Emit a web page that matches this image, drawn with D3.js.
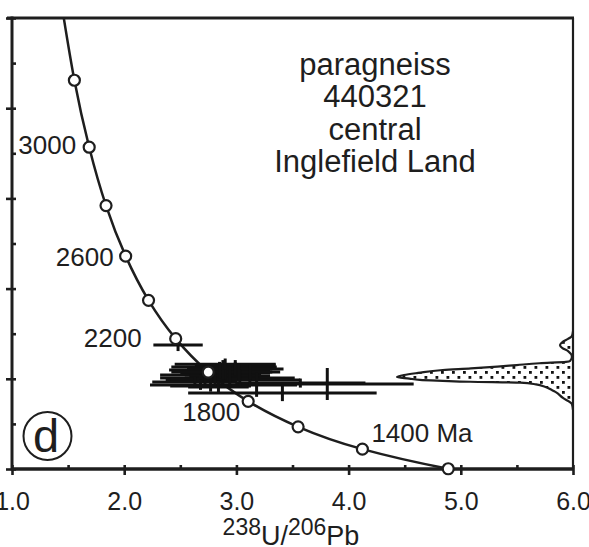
<!DOCTYPE html>
<html><head><meta charset="utf-8">
<script src="https://cdn.jsdelivr.net/npm/d3@7"></script>
<style>
body{margin:0;background:#fff}
svg{display:block}
text{font-family:"Liberation Sans",Arial,Helvetica,sans-serif;fill:#1e1e1e}
</style>
</head><body>
<svg id="c" width="589" height="547"></svg>
<script>
// ---------- data ----------
const concordiaAges = [1100, 1200, 1400, 1600, 1800, 2000, 2200, 2400, 2600, 2800, 3000, 3200, 3400];
const concordiaU238Pb206 = [5.375, 4.888, 4.123, 3.550, 3.105, 2.749, 2.459, 2.217, 2.013, 1.838, 1.688, 1.556, 1.440];
const concordiaPb207Pb206 = [0.0762, 0.0801, 0.0888, 0.0987, 0.1100, 0.1230, 0.1378, 0.1548, 0.1744, 0.1968, 0.2227, 0.2524, 0.2867];

const labelAges = [3000, 2600, 2200, 1800, 1400];
const labelTexts = ["3000", "2600", "2200", "1800", "1400 Ma"];

const spotU238Pb206 = [2.48, 2.89, 2.85, 2.90, 2.77, 2.94, 2.72, 2.68, 3.03, 2.63, 2.68, 3.18, 3.81, 3.41, 2.84, 2.88, 3.02, 3.12, 2.75, 2.99, 3.57, 2.90, 2.99, 2.81, 3.12, 2.77];
const spotPb207Pb206 = [0.1350, 0.1252, 0.1239, 0.1226, 0.1217, 0.1212, 0.1204, 0.1195, 0.1204, 0.1186, 0.1173, 0.1173, 0.1177, 0.1137, 0.1164, 0.1239, 0.1230, 0.1195, 0.1230, 0.1261, 0.1181, 0.1265, 0.1243, 0.1199, 0.1230, 0.1168];
const spotErrU = [0.22, 0.47, 0.45, 0.40, 0.45, 0.36, 0.40, 0.31, 0.49, 0.38, 0.45, 0.36, 0.77, 0.84, 0.27, 0.30, 0.30, 0.45, 0.33, 0.36, 0.58, 0.45, 0.43, 0.40, 0.27, 0.36];
const spotErrPb = [0.0027, 0.0027, 0.0036, 0.0031, 0.0027, 0.0044, 0.0027, 0.0022, 0.0036, 0.0022, 0.0022, 0.0053, 0.0071, 0.0036, 0.0027, 0.0044, 0.0040, 0.0027, 0.0027, 0.0022, 0.0020, 0.0025, 0.0030, 0.0030, 0.0035, 0.0025];

const densityPb207Pb206 = [0.1410, 0.1390, 0.1377, 0.1363, 0.1350, 0.1336, 0.1323, 0.1297, 0.1279, 0.1275, 0.1269, 0.1261, 0.1254, 0.1246, 0.1239, 0.1226, 0.1217, 0.1208, 0.1201, 0.1195, 0.1191, 0.1187, 0.1183, 0.1175, 0.1165, 0.1150, 0.1142, 0.1115, 0.1088, 0.1062];
const densityValue = [0, 0.006, 0.028, 0.060, 0.074, 0.060, 0.028, 0.006, 0.017, 0.04, 0.19, 0.32, 0.43, 0.58, 0.74, 0.88, 0.96, 1.0, 0.93, 0.87, 0.74, 0.585, 0.30, 0.21, 0.16, 0.12, 0.10, 0.057, 0.006, 0];

const xMajorTicks = [1, 2, 3, 4, 5, 6];
const xMinorTicks = [1.5, 2.5, 3.5, 4.5, 5.5];
const xTickLabels = ["1.0", "2.0", "3.0", "4.0", "5.0", "6.0"];
const yMajorTicks = [0.08, 0.12, 0.16, 0.20, 0.24, 0.28];
const yMinorTicks = [0.10, 0.14, 0.18, 0.22, 0.26];

const titleLines = ["paragneiss", "440321", "central", "Inglefield Land"];
const panelLetter = "d";

// ---------- layout / style ----------
const L = 12, R = 573, T = 18, B = 469;
const labelOffsets = [
  {anchor: "end", dx: -13, dy: 7},
  {anchor: "end", dx: -12, dy: 10},
  {anchor: "end", dx: -34, dy: 8},
  {anchor: "end", dx: -8, dy: 20},
  {anchor: "start", dx: 9, dy: -7}
];

const svg = d3.select("#c");
const x = d3.scaleLinear().domain([1, 6]).range([L, R]);
const y = d3.scaleLinear().domain([0.08, 0.28]).range([B, T]);
const dScale = d3.scaleLinear().domain([0, 1]).range([R, 397]);

const defs = svg.append("defs");
defs.append("clipPath").attr("id", "plot").append("rect")
  .attr("x", L).attr("y", T).attr("width", R - L).attr("height", B - T);
const pat = defs.append("pattern").attr("id", "dots")
  .attr("patternUnits", "userSpaceOnUse").attr("width", 11).attr("height", 10);
pat.append("rect").attr("x", 1).attr("y", 1).attr("width", 2.8).attr("height", 2.8).attr("fill", "#111");
pat.append("rect").attr("x", 6.5).attr("y", 6).attr("width", 2.8).attr("height", 2.8).attr("fill", "#111");

// ---------- axes ----------
const tickStyle = g => {
  g.select(".domain").remove();
  g.selectAll(".tick line").attr("stroke", "#1e1e1e").attr("stroke-width", 2.6);
};
const gxOut = svg.append("g").attr("transform", `translate(0,${B})`)
  .call(d3.axisBottom(x).tickValues(xMajorTicks).tickSize(6)
    .tickFormat((d, i) => xTickLabels[i]))
  .call(tickStyle);
gxOut.selectAll(".tick text").attr("y", 41).attr("dy", 0)
  .attr("font-size", 25).attr("fill", "#1e1e1e")
  .style("font-family", '"Liberation Sans",Arial,sans-serif');
svg.append("g").attr("transform", `translate(0,${B})`)
  .call(d3.axisBottom(x).tickValues(xMajorTicks.concat(xMinorTicks)).tickSize(-4).tickFormat(""))
  .call(tickStyle);
svg.append("g").attr("transform", `translate(${L},0)`)
  .call(d3.axisLeft(y).tickValues(yMajorTicks).tickSize(6).tickFormat(""))
  .call(tickStyle);
svg.append("g").attr("transform", `translate(${L},0)`)
  .call(d3.axisLeft(y).tickValues(yMajorTicks.concat(yMinorTicks)).tickSize(-4).tickFormat(""))
  .call(tickStyle);

// frame
svg.append("line").attr("x1", L).attr("x2", L).attr("y1", T - 1.5).attr("y2", B + 1.5)
  .attr("stroke", "#1e1e1e").attr("stroke-width", 3);
svg.append("line").attr("x1", L).attr("x2", R + 1).attr("y1", B).attr("y2", B)
  .attr("stroke", "#1e1e1e").attr("stroke-width", 3.4);
svg.append("line").attr("x1", L - 5).attr("x2", R + 1).attr("y1", T).attr("y2", T)
  .attr("stroke", "#1e1e1e").attr("stroke-width", 3);
svg.append("line").attr("x1", R).attr("x2", R).attr("y1", T).attr("y2", B)
  .attr("stroke", "#1e1e1e").attr("stroke-width", 2.2);

// ---------- density profile ----------
const dPts = densityPb207Pb206.map((r, i) => [dScale(densityValue[i]), y(r)]);
const dLine = d3.line().curve(d3.curveMonotoneY);
const areaPath = dLine(dPts) + `L${R},${y(densityPb207Pb206[densityPb207Pb206.length - 1])}L${R},${y(densityPb207Pb206[0])}Z`;
svg.append("path").attr("d", areaPath).attr("fill", "url(#dots)");
svg.append("path").attr("d", dLine(dPts)).attr("fill", "none")
  .attr("stroke", "#1e1e1e").attr("stroke-width", 2.2).attr("stroke-linejoin", "round");

// ---------- concordia ----------
const plot = svg.append("g").attr("clip-path", "url(#plot)");
const conc = concordiaAges.map((a, i) => ({age: a, u: concordiaU238Pb206[i], p: concordiaPb207Pb206[i]}));
plot.append("path")
  .attr("d", d3.line().x(d => x(d.u)).y(d => y(d.p)).curve(d3.curveNatural)(conc))
  .attr("fill", "none").attr("stroke", "#1e1e1e").attr("stroke-width", 2.5);

// ---------- error crosses ----------
const spots = spotU238Pb206.map((u, i) => ({u, p: spotPb207Pb206[i], eu: spotErrU[i], ep: spotErrPb[i]}));
const cg = svg.append("g").attr("stroke", "#111").attr("stroke-width", 3);
cg.selectAll("line.h").data(spots).join("line").attr("class", "h")
  .attr("x1", d => x(d.u - d.eu)).attr("x2", d => x(d.u + d.eu))
  .attr("y1", d => y(d.p)).attr("y2", d => y(d.p));
cg.selectAll("line.v").data(spots).join("line").attr("class", "v")
  .attr("x1", d => x(d.u)).attr("x2", d => x(d.u))
  .attr("y1", d => y(d.p - d.ep)).attr("y2", d => y(d.p + d.ep));

// concordia age markers
svg.append("g").selectAll("circle")
  .data(conc.filter(d => d.p >= 0.08 && d.p <= 0.28))
  .join("circle")
  .attr("cx", d => x(d.u)).attr("cy", d => y(d.p)).attr("r", 5.5)
  .attr("fill", "#fff").attr("stroke", "#1e1e1e").attr("stroke-width", 2.2);

// age labels
labelAges.forEach((a, i) => {
  const c = conc.find(d => d.age === a);
  const o = labelOffsets[i];
  svg.append("text").attr("x", x(c.u) + o.dx).attr("y", y(c.p) + o.dy)
    .attr("text-anchor", o.anchor).attr("font-size", 26).text(labelTexts[i]);
});

// ---------- title ----------
titleLines.forEach((t, i) => {
  svg.append("text").attr("x", 375).attr("y", 75 + i * 32.4)
    .attr("text-anchor", "middle").attr("font-size", 31).text(t);
});

// panel letter
svg.append("circle").attr("cx", 47.5).attr("cy", 436).attr("r", 24)
  .attr("fill", "none").attr("stroke", "#1e1e1e").attr("stroke-width", 2);
svg.append("text").attr("x", 46).attr("y", 452).attr("text-anchor", "middle")
  .attr("font-size", 47).text(panelLetter);

// axis title
const at = svg.append("text").attr("x", 291).attr("y", 545).attr("text-anchor", "middle");
at.append("tspan").attr("font-size", 23).attr("dy", -10).text("238");
at.append("tspan").attr("font-size", 27).attr("dy", 10).text("U/");
at.append("tspan").attr("font-size", 23).attr("dy", -10).text("206");
at.append("tspan").attr("font-size", 27).attr("dy", 10).text("Pb");
</script>
</body></html>
